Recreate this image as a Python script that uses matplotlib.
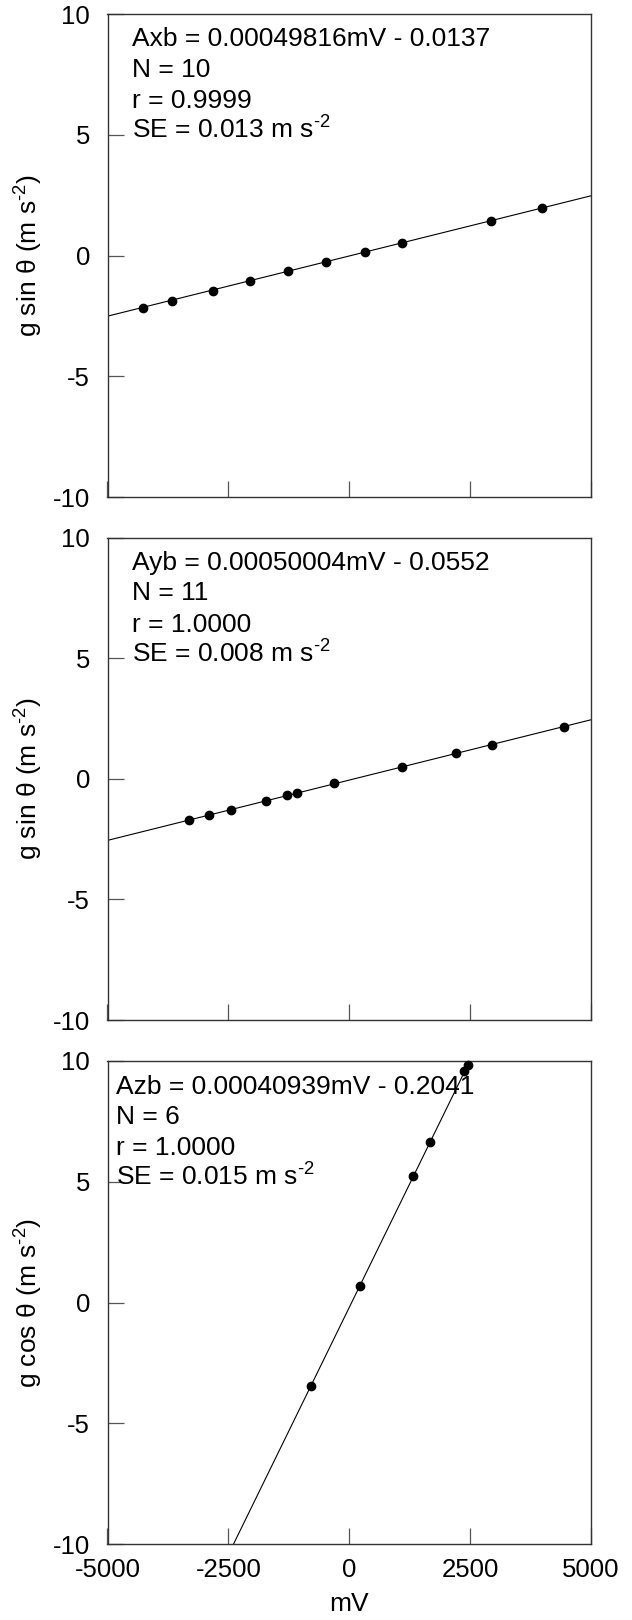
import numpy as np
import matplotlib.pyplot as plt

plt.rcParams['font.family'] = ['Liberation Sans', 'DejaVu Sans']
plt.rcParams['mathtext.fontset'] = 'custom'
plt.rcParams['mathtext.rm'] = 'Liberation Sans'
plt.rcParams['mathtext.default'] = 'regular'
plt.rcParams['axes.unicode_minus'] = False

# readings, mV vs g sin/cos theta (m s^-2)
x_mv = [-4276, -3661, -2820, -2047, -1273, -491, 316, 1098, 2937, 3994]
x_g = [-2.15, -1.86, -1.45, -1.05, -0.65, -0.26, 0.14, 0.53, 1.44, 1.97]

y_mv = [-3319, -2895, -2446, -1714, -1281, -1082, -308, 1098, 2213, 2945, 4451]
y_g = [-1.72, -1.49, -1.28, -0.92, -0.69, -0.59, -0.18, 0.50, 1.06, 1.40, 2.16]

z_mv = [-790, 217, 1315, 1664, 2380, 2446]
z_g = [-3.47, 0.70, 5.23, 6.64, 9.58, 9.84]

# fitted lines (slope, intercept) as drawn
slopes = [0.00049816, 0.00050004, 0.0040939]
intercepts = [-0.0137, -0.0552, -0.2041]

sup = r"$^{\text{-}2}$"
notes = [
    ["Axb = 0.00049816mV - 0.0137", "N = 10", "r = 0.9999", "SE = 0.013 m s" + sup],
    ["Ayb = 0.00050004mV - 0.0552", "N = 11", "r = 1.0000", "SE = 0.008 m s" + sup],
    ["Azb = 0.00040939mV - 0.2041", "N = 6", "r = 1.0000", "SE = 0.015 m s" + sup],
]
ylabels = ["g sin \u03b8 (m s" + sup + ")", "g sin \u03b8 (m s" + sup + ")",
           "g cos \u03b8 (m s" + sup + ")"]

data = [(x_mv, x_g), (y_mv, y_g), (z_mv, z_g)]

fig = plt.figure(figsize=(6.32, 16.2), dpi=100)
W, H = 632, 1620
# axes boxes in pixels: left, top, right, bottom
boxes = [(107.5, 14, 591, 497.3), (107.5, 537.5, 591, 1020), (107.5, 1061, 591, 1544)]
text_x = [131.5, 132.0, 116.0]
line_off = [32.5, 63.0, 94.0, 125.0]

for i, (l, t, r, b) in enumerate(boxes):
    ax = fig.add_axes([l / W, 1 - b / H, (r - l) / W, (b - t) / H])
    mv, g = data[i]
    xx = np.array([-5000., 5000.])
    ax.plot(xx, slopes[i] * xx + intercepts[i], "-k", lw=0.8)
    ax.plot(mv, g, "ok", ms=6, clip_on=False, zorder=3)
    ax.set_xlim(-5000, 5000)
    ax.set_ylim(-10, 10)
    ax.set_xticks(np.arange(-5000, 5001, 2500))
    ax.set_yticks(np.arange(-10, 11, 5))
    ax.tick_params(direction="in", length=11.5, width=0.9, color="#555555",
                   labelsize=18.5, pad=12.5)
    ax.tick_params(axis="x", pad=10)
    for s in ax.spines.values():
        s.set_color("#333333")
        s.set_linewidth(1.0)
    if i < 2:
        ax.tick_params(axis="x", labelbottom=False)
    else:
        ax.set_xlabel("mV", fontsize=19, labelpad=7)
    ax.set_ylabel(ylabels[i], fontsize=19, labelpad=6)
    hpx = b - t
    for k, txt in enumerate(notes[i]):
        ax.text((text_x[i] - l) / (r - l), 1 - line_off[k] / hpx, txt,
                transform=ax.transAxes, fontsize=19, va="baseline", ha="left")

fig.savefig("out.png", dpi=100)
